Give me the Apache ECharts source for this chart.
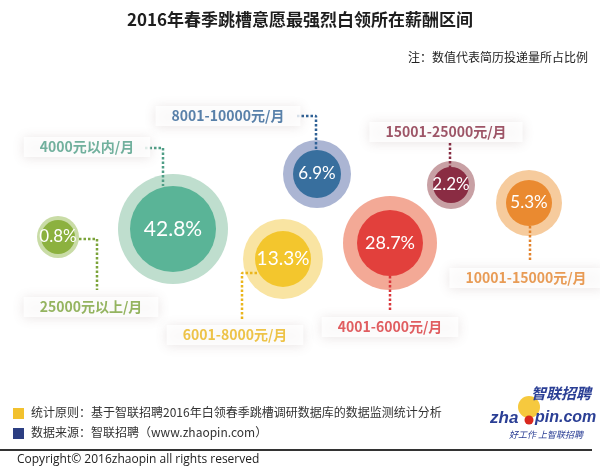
<!DOCTYPE html>
<html>
<head>
<meta charset="utf-8">
<script src="https://cdn.jsdelivr.net/npm/echarts@6/dist/echarts.min.js"></script>
<style>
html,body{margin:0;padding:0;background:#fff;}
#chart{width:600px;height:471px;}
</style>
</head>
<body>
<div id="chart"></div>
<script>
// ---- data ----
const categories = ['25000元以上/月', '4000元以内/月', '8001-10000元/月', '6001-8000元/月', '4001-6000元/月', '15001-25000元/月', '10001-15000元/月'];
const shares = [0.8, 42.8, 6.9, 13.3, 28.7, 2.2, 5.3];
const title = '2016年春季跳槽意愿最强烈白领所在薪酬区间';
const note = '注：数值代表简历投递量所占比例';
const footnotes = ['统计原则：基于智联招聘2016年白领春季跳槽调研数据库的数据监测统计分析', '数据来源：智联招聘（www.zhaopin.com）'];

// ---- layout (infographic placement, not data) ----
const bubbleX = [58, 173, 317, 283, 390, 451, 529];
const bubbleY = [237, 229, 174, 259, 243, 185, 203];
const outerR = [21, 55, 34, 40, 47, 24, 33];
const innerR = [17, 43, 24, 28, 33, 18, 23];
const pctFont = [17, 21, 17, 19, 18, 17, 17];
// leader offsets relative to bubble centre
const leaderPaths = [
  [[21, 2], [39, 2], [39, 53]],
  [[-28, -81], [-10, -81], [-10, -43]],
  [[-20, -58], [-1, -58], [-1, -24]],
  [[-26, 14], [-41, 14], [-41, 61]],
  [[0, 33], [0, 69]],
  [[-1, -17], [-1, -43]],
  [[1, 23], [1, 59]]
];
const labelOffset = [[33, 70], [-86, -82], [-89, -58], [-48, 76], [0, 84], [-5, -53], [-3, 75]];
const innerColors = ['#8cb13f', '#5ab497', '#386f9e', '#f3c62d', '#e2403c', '#8a2c43', '#ea8a30'];
const outerColors = ['#c9dca6', '#bfdece', '#abb5d3', '#f9e4a2', '#f3a996', '#c8a0a4', '#f6cb9d'];
const textColors = ['#7ba33a', '#4f9e86', '#2f6195', '#eab51c', '#d9363a', '#862b41', '#e3832c'];

const chart = echarts.init(document.getElementById('chart'));

const outerData = shares.map((v, i) => ({
  value: [bubbleX[i], bubbleY[i], v],
  symbolSize: outerR[i] * 2,
  itemStyle: { color: outerColors[i], opacity: 1 }
}));
const innerData = shares.map((v, i) => ({
  value: [bubbleX[i], bubbleY[i], v],
  symbolSize: innerR[i] * 2,
  itemStyle: { color: innerColors[i], opacity: 1 },
  label: { fontSize: pctFont[i] }
}));
const leaderSeries = leaderPaths.map((p, i) => ({
  type: 'line',
  data: p.map(d => [bubbleX[i] + d[0], bubbleY[i] + d[1]]),
  symbol: 'none',
  silent: true,
  z: 3,
  lineStyle: { color: textColors[i], width: 2.5, type: [2.5, 2] }
}));
const labelData = categories.map((c, i) => ({
  value: [bubbleX[i] + labelOffset[i][0], bubbleY[i] + labelOffset[i][1]],
  name: c,
  label: { color: textColors[i] }
}));

chart.setOption({
  animation: false,
  backgroundColor: '#fff',
  title: {
    text: title,
    left: 'center',
    top: 6,
    textStyle: { fontFamily: 'Noto Sans CJK SC', fontSize: 17, fontWeight: 'bold', color: '#1e1e1e' }
  },
  grid: { left: 0, top: 0, width: 600, height: 471 },
  xAxis: { type: 'value', min: 0, max: 600, show: false },
  yAxis: { type: 'value', min: 0, max: 471, inverse: true, show: false },
  series: [
    { type: 'scatter', data: outerData, z: 2, silent: true },
    ...leaderSeries,
    {
      type: 'scatter', data: innerData, z: 4, silent: true,
      label: {
        show: true, position: 'inside', color: '#fff', fontFamily: 'Lato',
        formatter: p => p.value[2].toFixed(1) + '%'
      }
    },
    {
      type: 'scatter', data: labelData, z: 5, symbolSize: 0, silent: true,
      label: {
        show: true, position: 'inside', formatter: p => p.name,
        fontFamily: 'Noto Sans CJK SC', fontSize: 14, fontWeight: 'bold',
        backgroundColor: '#fff', padding: [3, 16],
        shadowColor: 'rgba(120,90,90,0.2)', shadowBlur: 12, shadowOffsetY: 1
      }
    }
  ],
  graphic: [
    { type: 'text', right: 12, top: 51, style: { text: note, font: '12px "Noto Sans CJK SC"', fill: '#222' } },
    { type: 'rect', left: 13, top: 408, shape: { width: 11, height: 11 }, style: { fill: '#f2c12e' } },
    { type: 'rect', left: 13, top: 428, shape: { width: 11, height: 11 }, style: { fill: '#2c3e82' } },
    { type: 'text', left: 31, top: 406, style: { text: footnotes[0], font: '12px "Noto Sans CJK SC"', fill: '#333' } },
    { type: 'text', left: 31, top: 426, style: { text: footnotes[1], font: '12px "Noto Sans CJK SC"', fill: '#333' } },
    { type: 'rect', left: 0, top: 449, shape: { width: 592, height: 2 }, style: { fill: '#333' } },
    { type: 'text', left: 17, top: 454, style: { text: 'Copyright\u00a9 2016zhaopin all rights reserved', font: '12px "Open Sans"', fill: '#222' } },
    { type: 'circle', z: 1, shape: { cx: 529, cy: 407, r: 11 }, style: { fill: '#f6c93e' } },
    { type: 'text', z: 2, left: 531, top: 386, style: { text: '智联招聘', font: 'italic bold 15px "Noto Sans CJK SC"', fill: '#2b3f95' } },
    { type: 'circle', z: 2, shape: { cx: 529, cy: 420, r: 4.5 }, style: { fill: '#d9281e' } },
    { type: 'text', z: 2, left: 490, top: 410, style: { text: 'zha', font: 'italic bold 17px "Liberation Sans"', fill: '#2b3f95' } },
    { type: 'text', z: 2, left: 535, top: 410, style: { text: 'pin.com', font: 'italic bold 16px "Liberation Sans"', fill: '#2b3f95' } },
    { type: 'text', z: 2, left: 509, top: 430, style: { text: '好工作 上智联招聘', font: 'italic 9px "Noto Sans CJK SC"', fill: '#2b3f95' } }
  ]
});
</script>
</body>
</html>
